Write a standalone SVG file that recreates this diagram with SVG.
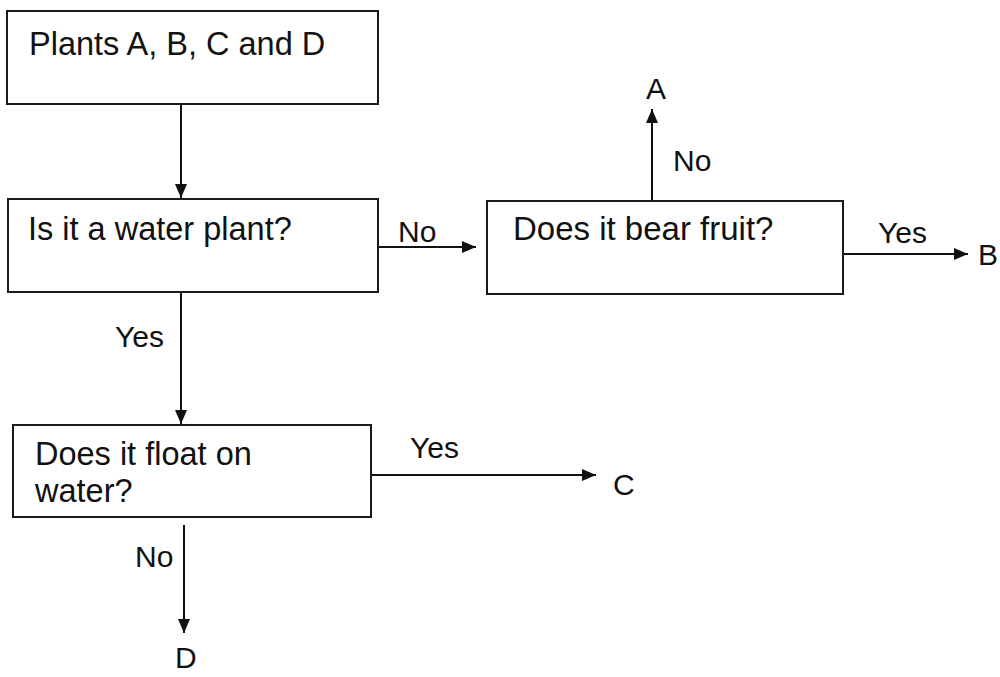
<svg xmlns="http://www.w3.org/2000/svg" width="1000" height="677" viewBox="0 0 1000 677">
<style>
.box{fill:#fff;stroke:#1a1a1a;stroke-width:2}
.t{font-family:"Liberation Sans",Arial,sans-serif;font-size:32.5px;fill:#111}
.l{font-family:"Liberation Sans",Arial,sans-serif;font-size:30px;fill:#111}
.c{stroke:#111;stroke-width:2;fill:none;marker-end:url(#ah)}
</style>
<defs>
<marker id="ah" viewBox="0 0 14 12" refX="14" refY="6" markerWidth="14" markerHeight="12" markerUnits="userSpaceOnUse" orient="auto">
<path d="M0,0 L14,6 L0,12 z" fill="#111"/>
</marker>
</defs>
<rect width="1000" height="677" fill="#fff"/>
<g id="connectors">
<line class="c" x1="181" y1="104" x2="181" y2="198"/>
<line class="c" x1="181" y1="292" x2="181" y2="424"/>
<line class="c" x1="378" y1="247" x2="476" y2="247"/>
<line class="c" x1="652" y1="201" x2="652" y2="109"/>
<line class="c" x1="843" y1="254" x2="968" y2="254"/>
<line class="c" x1="371" y1="475" x2="596" y2="475"/>
<line class="c" x1="184" y1="525" x2="184" y2="633"/>
<text class="l" x="115" y="347">Yes</text>
<text class="l" x="398" y="242">No</text>
<text class="l" x="673" y="171">No</text>
<text class="l" x="878" y="243">Yes</text>
<text class="l" x="410" y="458">Yes</text>
<text class="l" x="135" y="567">No</text>
</g>
<g id="n1"><rect class="box" x="7" y="11" width="371" height="93"/><text class="t" x="29" y="55">Plants A, B, C and D</text></g>
<g id="n2"><rect class="box" x="8" y="199" width="370" height="93"/><text class="t" x="28" y="240">Is it a water plant?</text></g>
<g id="n3"><rect class="box" x="487" y="201" width="356" height="93"/><text class="t" x="513" y="240" style="font-size:33px">Does it bear fruit?</text></g>
<g id="n4"><rect class="box" x="13" y="425" width="358" height="92"/><text class="t" x="35" y="465">Does it float on</text><text class="t" x="35" y="502">water?</text></g>
<g id="oA"><text class="l" x="646" y="99">A</text></g>
<g id="oB"><text class="l" x="978" y="265">B</text></g>
<g id="oC"><text class="l" x="613" y="495">C</text></g>
<g id="oD"><text class="l" x="175" y="668">D</text></g>
</svg>
